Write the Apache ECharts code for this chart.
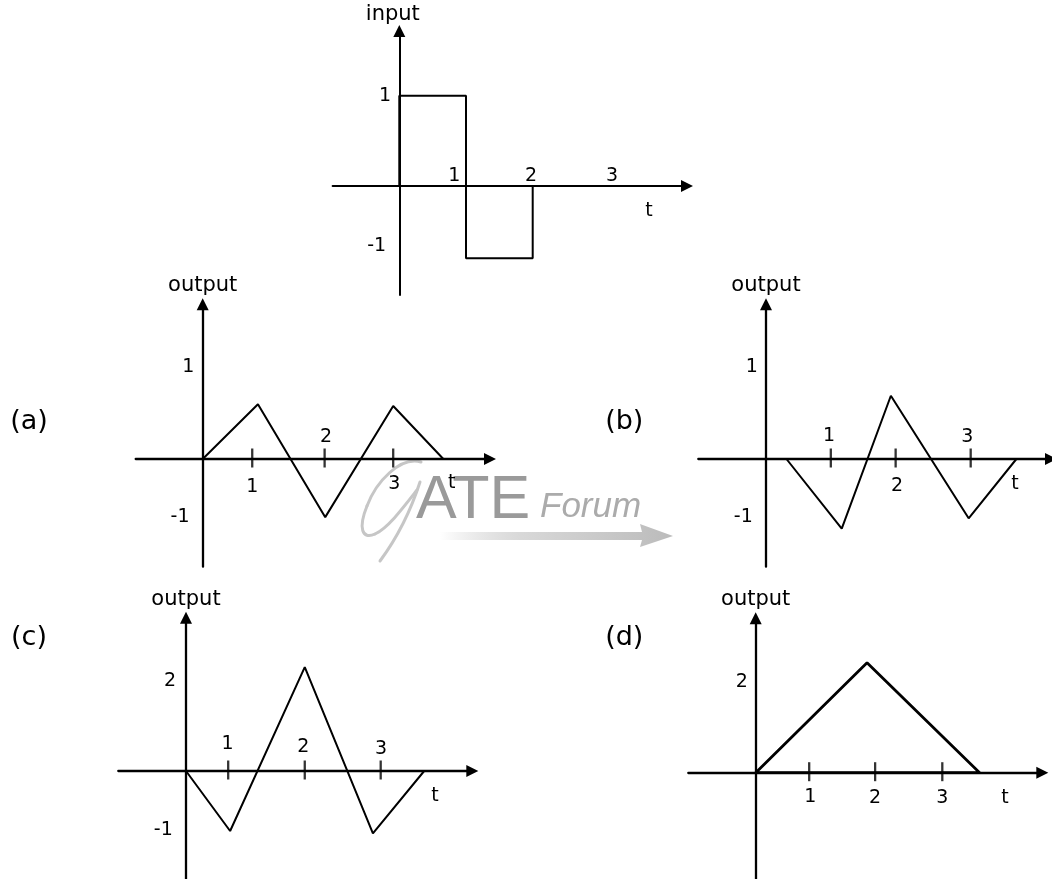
<!DOCTYPE html>
<html>
<head>
<meta charset="utf-8">
<title>input / output</title>
<script src="https://cdn.jsdelivr.net/npm/echarts@6/dist/echarts.min.js"></script>
<style>
  html, body { margin: 0; padding: 0; background: #fff; }
  #myChart { width: 1052px; height: 879px; }
</style>
</head>
<body>
<div id="myChart"></div>
<script>
  // input pulse (t, level)
  const inputT = [0, 0, 1, 1, 2, 2];
  const inputY = [0, 1, 1, -0.8, -0.8, 0];
  const inputTicks = [1, 2, 3];
  const inputTickLabels = ['1', '2', '3'];
  const inputYLabels = ['1', '-1'];

  // option (a)
  const aT = [0, 0.87, 1.93, 3.0, 3.79];
  const aY = [0, 0.96, -1.02, 0.93, 0];
  const aTicks = [0.78, 1.92, 3];
  const aTickLabels = ['1', '2', '3'];
  const aYLabels = ['1', '-1'];

  // option (b)
  const bT = [0.3, 1.11, 1.83, 2.97, 3.67];
  const bY = [0, -1.22, 1.11, -1.04, 0];
  const bTicks = [0.95, 1.9, 3];
  const bTickLabels = ['1', '2', '3'];
  const bYLabels = ['1', '-1'];

  // option (c)
  const cT = [0, 0.68, 1.83, 2.88, 3.67];
  const cY = [0, -1.0, 1.73, -1.04, 0];
  const cTicks = [0.65, 1.83, 3];
  const cTickLabels = ['1', '2', '3'];
  const cYLabels = ['2', '-1'];

  // option (d)
  const dT = [0, 1.79, 3.6, 0];
  const dY = [0, 2.39, 0, 0];
  const dTicks = [0.86, 1.92, 3];
  const dTickLabels = ['1', '2', '3'];
  const dYLabels = ['2'];

  const plots = [
    {t: inputT, y: inputY, ticks: inputTicks, tickLabels: inputTickLabels, yLabels: inputYLabels},
    {t: aT, y: aY, ticks: aTicks, tickLabels: aTickLabels, yLabels: aYLabels},
    {t: bT, y: bY, ticks: bTicks, tickLabels: bTickLabels, yLabels: bYLabels},
    {t: cT, y: cY, ticks: cTicks, tickLabels: cTickLabels, yLabels: cYLabels},
    {t: dT, y: dY, ticks: dTicks, tickLabels: dTickLabels, yLabels: dYLabels}
  ];

  // where each little plot sits on the page (pixels), and its units
  const layouts = [
    {ox: 399.3, oy: 186, sx: 66.7, sy: 90.3, xl: 332.6, xe: 687, ye: 31, yb: 295,
      name: 'input', nameGap: 6, namePad: [0, 13, 0, 0], axisW: 2, lineW: 2, marks: false,
      tickOff: [[-11.7, -9.5], [-1.7, -9.5], [12.6, -9.5]], yOff: [[-14.3, -89.5], [-22.6, 60]], tOff: [249.7, 25]},
    {ox: 202.7, oy: 459, sx: 63.5, sy: 57, xl: 135.7, xe: 490, ye: 304.3, yb: 566.7,
      name: 'output', nameGap: 8, namePad: 0, axisW: 2.3, lineW: 2, marks: true,
      tickOff: [[0, 28.5], [1.3, -21.5], [1, 25]], yOff: [[-14.4, -91.5], [-22.7, 58]], tOff: [249, 24.5]},
    {ox: 766, oy: 459, sx: 68.23, sy: 57, xl: 698.3, xe: 1051, ye: 304.3, yb: 566.7,
      name: 'output', nameGap: 8, namePad: 0, axisW: 2.3, lineW: 2, marks: true,
      tickOff: [[-1.7, -22.5], [1.4, 27], [-3.4, -21.5]], yOff: [[-14.3, -91.5], [-22.7, 58]], tOff: [249, 25]},
    {ox: 186, oy: 771, sx: 64.9, sy: 60, xl: 118.3, xe: 472.3, ye: 617.7, yb: 882,
      name: 'output', nameGap: 8, namePad: 0, axisW: 2.3, lineW: 2, marks: true,
      tickOff: [[-0.6, -27], [-1.4, -23.5], [0.3, -22]], yOff: [[-16, -90], [-22.7, 59]], tOff: [249, 25]},
    {ox: 755.7, oy: 772.7, sx: 62.2, sy: 46, xl: 688.3, xe: 1042.3, ye: 618.3, yb: 882,
      name: 'output', nameGap: 8, namePad: 0, axisW: 2.3, lineW: 2.8, marks: true,
      tickOff: [[1, 24], [0, 25], [0, 25]], yOff: [[-14, -91]], tOff: [249.3, 25]}
  ];

  const font = 'DejaVu Sans';
  let grids = [], xAxes = [], yAxes = [], series = [];

  plots.forEach(function (p, i) {
    const L = layouts[i];
    const axisLine = {
      onZero: true,
      symbol: ['none', 'triangle'],
      symbolSize: [12, 12],
      lineStyle: {color: '#000', width: L.axisW}
    };
    grids.push({left: L.xl, top: L.ye, width: L.xe - L.xl, height: L.yb - L.ye, outerBoundsMode: 'none'});
    xAxes.push({
      gridIndex: i, type: 'value',
      min: (L.xl - L.ox) / L.sx, max: (L.xe - L.ox) / L.sx,
      axisLine: axisLine, axisTick: {show: false}, axisLabel: {show: false}, splitLine: {show: false}
    });
    yAxes.push({
      gridIndex: i, type: 'value',
      min: -(L.yb - L.oy) / L.sy, max: (L.oy - L.ye) / L.sy,
      name: L.name, nameLocation: 'end', nameGap: L.nameGap,
      nameTextStyle: {color: '#000', fontSize: 21, fontFamily: font, padding: L.namePad},
      axisLine: axisLine, axisTick: {show: false}, axisLabel: {show: false}, splitLine: {show: false}
    });

    series.push({
      type: 'line', xAxisIndex: i, yAxisIndex: i,
      data: p.t.map(function (t, k) { return [t, p.y[k]]; }),
      showSymbol: false, symbol: 'none', clip: false, z: 3,
      lineStyle: {color: '#000', width: L.lineW}
    });

    if (L.marks) {
      series.push({
        type: 'scatter', xAxisIndex: i, yAxisIndex: i, silent: true, z: 4,
        data: p.ticks.map(function (v) { return [v, 0]; }),
        symbol: 'rect', symbolSize: [2.3, 19], symbolOffset: [0, -1],
        itemStyle: {color: '#000'}
      });
    }
  });

  function textEl(txt, x, y, size) {
    return {type: 'text', x: x, y: y, z: 10, silent: true,
      style: {text: txt, fill: '#000', font: size + 'px "DejaVu Sans"', textAlign: 'center', textVerticalAlign: 'middle'}};
  }

  // strokes of the script "G" in the watermark
  const gStrokes = [
    [421, 462, 400, 456, 376, 482, 367, 506],
    [367, 506, 358, 528, 362, 540, 375, 534],
    [375, 534, 388, 528, 403, 508, 417, 490],
    [420, 482, 411, 510, 397, 538, 380, 561]
  ];
  const gElements = gStrokes.map(function (s) {
    return {type: 'bezierCurve', z: -1, silent: true,
      shape: {x1: s[0], y1: s[1], cpx1: s[2], cpy1: s[3], cpx2: s[4], cpy2: s[5], x2: s[6], y2: s[7]},
      style: {fill: null, stroke: '#c6c6c6', lineWidth: 3, lineCap: 'round'}};
  });

  let graphics = [
    textEl('(a)', 29, 422, 27),
    textEl('(b)', 624.3, 422, 27),
    textEl('(c)', 29, 637.5, 27),
    textEl('(d)', 624.3, 637.5, 27),
    // GATE Forum watermark
    {type: 'text', z: -1, silent: true, x: 416, y: 501,
      style: {text: 'ATE', fill: '#9a9a9a', font: '61px "Liberation Sans"', textAlign: 'left', textVerticalAlign: 'middle'}},
    {type: 'text', z: -1, silent: true, x: 540, y: 507,
      style: {text: 'Forum', fill: '#ababab', font: 'italic 35px "Liberation Sans"', textAlign: 'left', textVerticalAlign: 'middle'}},
    {type: 'polygon', z: -1, silent: true,
      shape: {points: [[440, 532], [642, 532], [640, 524], [673, 536], [640, 547], [642, 540], [440, 540]]},
      style: {fill: new echarts.graphic.LinearGradient(0, 0, 1, 0, [
        {offset: 0, color: 'rgba(200,200,200,0)'},
        {offset: 0.35, color: '#d8d8d8'},
        {offset: 1, color: '#bbbbbb'}
      ])}}
  ].concat(gElements);

  let myChart = echarts.init(document.getElementById('myChart'), null, {renderer: 'canvas'});
  let option = {
    animation: false,
    backgroundColor: '#fff',
    grid: grids,
    xAxis: xAxes,
    yAxis: yAxes,
    series: series,
    graphic: graphics
  };
  myChart.setOption(option);

  // small texts: tick labels sit on their ticks, the rest on the origin,
  // placed through each plot's own axes
  plots.forEach(function (p, i) {
    const L = layouts[i];
    const texts = p.tickLabels.concat(p.yLabels, ['t']);
    const offs = L.tickOff.concat(L.yOff, [L.tOff]);
    const anchors = p.ticks.map(function (v) { return [v, 0]; })
      .concat(p.yLabels.map(function () { return [0, 0]; }), [[0, 0]]);
    anchors.forEach(function (a, k) {
      const pt = myChart.convertToPixel({gridIndex: i}, a);
      graphics.push(textEl(texts[k], pt[0] + offs[k][0], pt[1] + offs[k][1], 19));
    });
  });
  myChart.setOption({graphic: graphics});
</script>
</body>
</html>
